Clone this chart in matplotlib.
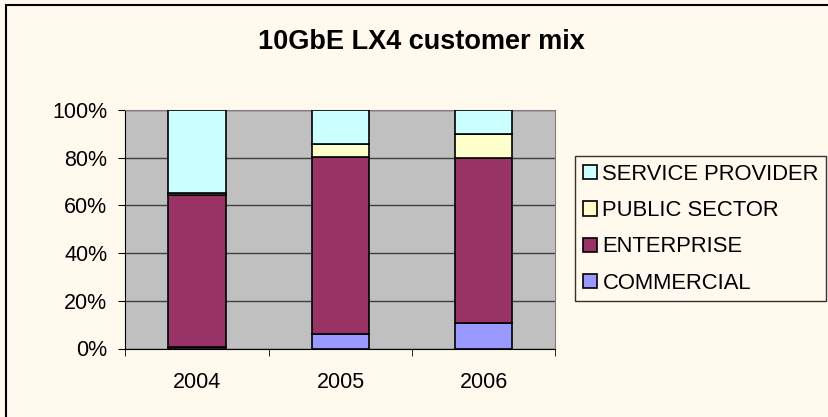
import matplotlib
matplotlib.use("Agg")
import matplotlib.pyplot as plt
import numpy as np
from matplotlib.patches import Rectangle

plt.rcParams["font.family"] = ["Liberation Sans", "DejaVu Sans"]

years = ["2004", "2005", "2006"]
series = ["COMMERCIAL", "ENTERPRISE", "PUBLIC SECTOR", "SERVICE PROVIDER"]
commercial = [0.5, 6.0, 10.5]
enterprise = [64.0, 74.5, 69.3]
public_sector = [0.5, 5.3, 10.2]
service_provider = [35.0, 14.2, 10.0]
colors = ["#9999FF", "#993366", "#FFFFCC", "#CCFFFF"]

BG = "#FFF9EE"

fig = plt.figure(figsize=(8.29, 4.17), dpi=100)
fig.patch.set_facecolor(BG)
fig.patches.append(Rectangle((6 / 829, -0.05), 1.1, 1 - 5 / 417 + 0.05,
                             transform=fig.transFigure, fill=False,
                             edgecolor="black", linewidth=1.5))

ax = fig.add_axes([125.5 / 829, 1 - 348.5 / 417, 430 / 829, 238.5 / 417])
ax.set_facecolor("#C0C0C0")

x = np.arange(len(years))
bottom = np.zeros(len(years))
handles = []
for name, vals, c in zip(series, [commercial, enterprise, public_sector, service_provider], colors):
    b = ax.bar(x, vals, width=0.4, bottom=bottom, color=c, edgecolor="black",
               linewidth=1.2, label=name, zorder=3)
    handles.append(b)
    bottom += np.array(vals)

ax.set_xlim(-0.5, 2.5)
ax.set_ylim(0, 100)
ax.set_yticks(np.arange(0, 101, 20))
ax.set_yticklabels([f"{v}%" for v in range(0, 101, 20)])
ax.set_xticks(x)
ax.set_xticklabels(years)
ax.set_xticks([-0.5, 0.5, 1.5, 2.5], minor=True)
ax.tick_params(axis="x", which="major", length=0, pad=17, labelsize=15.5)
ax.tick_params(axis="x", which="minor", length=5, direction="out", color="black")
ax.tick_params(axis="y", length=5, direction="out", labelsize=15.5, pad=8)
ax.yaxis.grid(True, color="#404040", linewidth=1.0, zorder=1)
ax.set_axisbelow(True)
for s in ["top", "right"]:
    ax.spines[s].set_color("#808080")
for s in ["left", "bottom"]:
    ax.spines[s].set_color("black")

fig.text(421 / 829, 1 - 49.3 / 417, "10GbE LX4 customer mix", ha="center", va="baseline",
         fontsize=19.5, fontweight="bold")

leg = fig.legend(handles[::-1], series[::-1], loc="upper left",
                 bbox_to_anchor=(575 / 829, 1 - 156 / 417), fontsize=15.8,
                 frameon=True, fancybox=False, edgecolor="black",
                 facecolor=BG, handlelength=0.63, handleheight=0.63,
                 handletextpad=0.27, labelspacing=0.7, borderpad=0.35,
                 borderaxespad=0)
leg.get_frame().set_linewidth(1.0)

fig.savefig("out.png", dpi=100, facecolor=fig.get_facecolor())
